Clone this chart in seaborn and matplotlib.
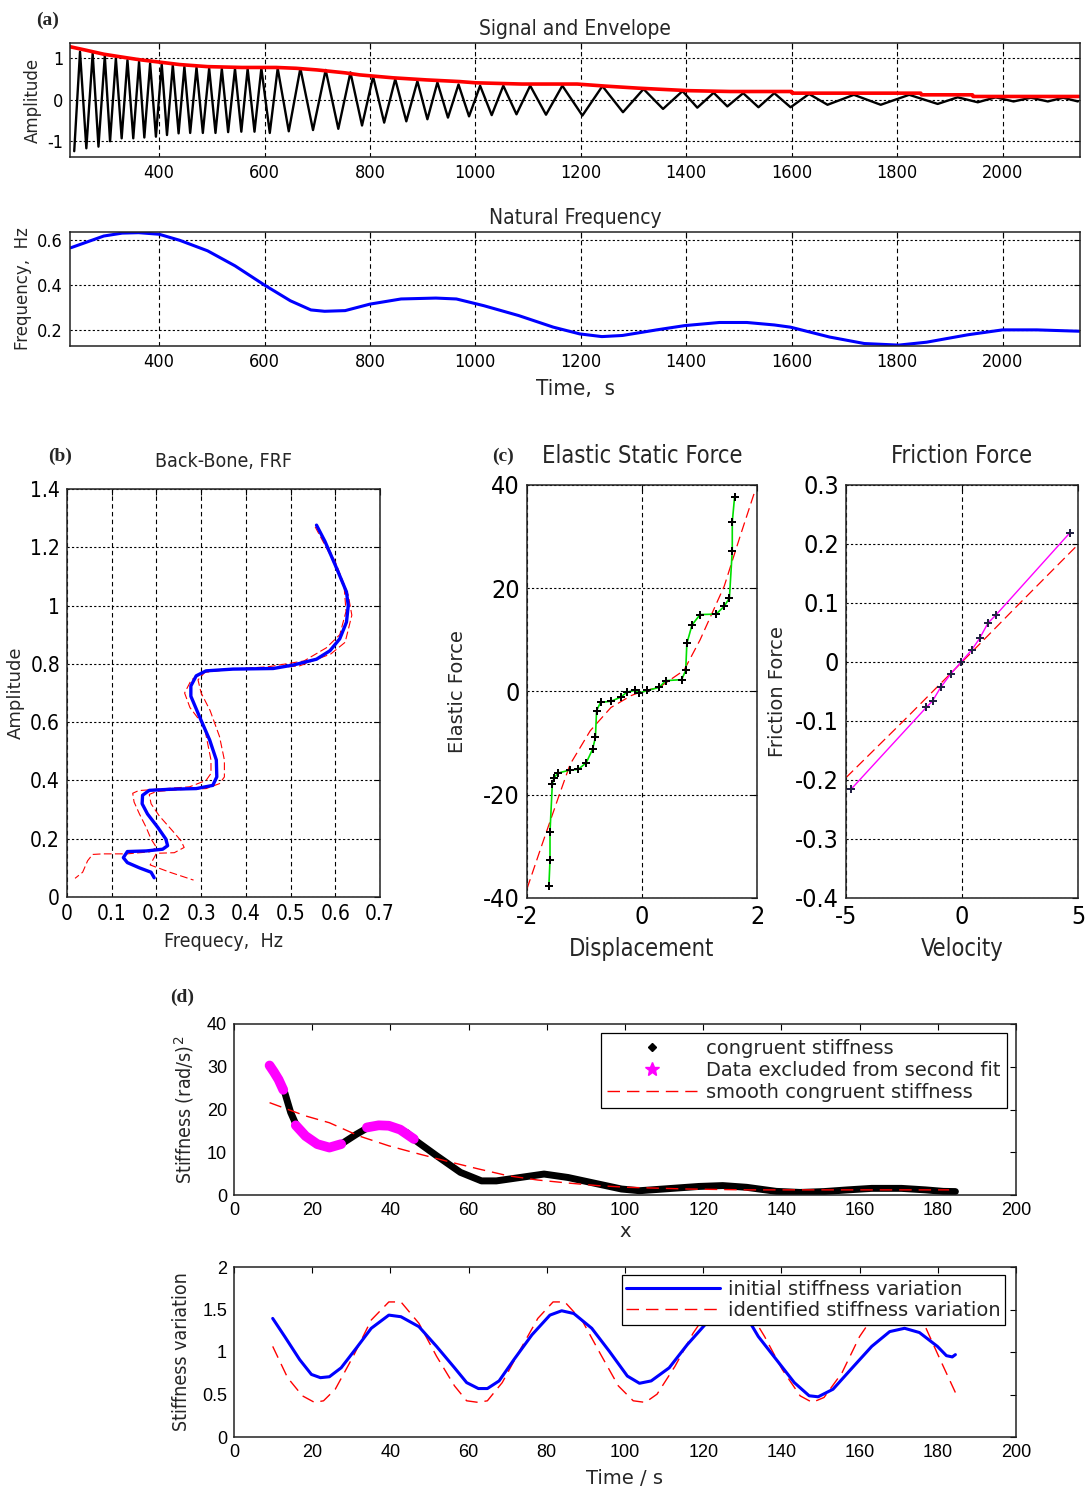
import matplotlib
matplotlib.use("Agg")
import matplotlib.pyplot as plt
from matplotlib.lines import Line2D
from matplotlib.ticker import FuncFormatter
from matplotlib import font_manager
from matplotlib.font_manager import FontProperties
import seaborn as sns

sns.set_style("white")
plt.rcParams["font.family"] = ["Liberation Sans", "DejaVu Sans"]

# look for a narrow face; else fall back to DejaVu Sans
narrow_path = None
for f in font_manager.fontManager.ttflist:
    n = (f.name + " " + f.fname).lower()
    if ("narrow" in n or "condensed" in n) and not any(k in n for k in ("bold", "oblique", "italic")):
        narrow_path = f.fname
        break
WIDE = "DejaVu Sans"
ARIAL = "Liberation Sans"


def nfp(size):
    if narrow_path:
        return FontProperties(fname=narrow_path, size=size)
    return FontProperties(family="DejaVu Sans", size=size * 0.85)


# ---------------- (a) signal and envelope ----------------
sig_t = [239, 250, 262, 274, 285, 297, 307, 318, 329, 340, 351, 362, 372, 383, 394, 405,
         415, 426, 437, 448, 459, 471, 483, 495, 507, 519, 531, 544, 556, 568, 581, 594,
         610, 625, 646, 668, 692, 716, 740, 763, 785, 806, 827, 848, 869, 890, 909, 928,
         948, 968, 988, 1009, 1031, 1053, 1078, 1104, 1134, 1165, 1203, 1241, 1280, 1319,
         1356, 1393, 1421, 1452, 1478, 1508, 1537, 1567, 1598, 1633, 1668, 1718, 1769,
         1823, 1877, 1915, 1953, 1987, 2021, 2054, 2086, 2115, 2143]
sig_a = [-1.24, 1.16, -1.17, 1.12, -1.13, 1.06, -1.0, 1.0, -0.93, 0.96, -0.93, 0.92, -0.91,
         0.88, -0.89, 0.86, -0.85, 0.84, -0.81, 0.80, -0.80, 0.78, -0.80, 0.76, -0.80, 0.75,
         -0.78, 0.75, -0.77, 0.75, -0.77, 0.76, -0.80, 0.76, -0.76, 0.76, -0.73, 0.72, -0.70,
         0.66, -0.62, 0.56, -0.55, 0.50, -0.52, 0.45, -0.47, 0.42, -0.43, 0.37, -0.40, 0.34,
         -0.37, 0.34, -0.35, 0.34, -0.36, 0.34, -0.38, 0.33, -0.30, 0.26, -0.22, 0.21, -0.19,
         0.17, -0.16, 0.16, -0.18, 0.16, -0.18, 0.14, -0.12, 0.12, -0.12, 0.12, -0.10, 0.06,
         -0.06, 0.06, -0.04, 0.05, -0.04, 0.05, -0.04]
env_t = [231, 260, 295, 330, 361, 400, 439, 492, 557, 622, 660, 700, 753, 781, 844, 907,
         970, 1000, 1088, 1193, 1247, 1310, 1341, 1405, 1484, 1600, 1601, 1845, 1846, 1943,
         1944, 2145]
env_a = [1.28, 1.20, 1.10, 1.03, 0.97, 0.91, 0.85, 0.80, 0.78, 0.78, 0.76, 0.72, 0.65, 0.60,
         0.53, 0.48, 0.44, 0.41, 0.38, 0.38, 0.33, 0.28, 0.26, 0.22, 0.20, 0.20, 0.16, 0.16,
         0.12, 0.12, 0.08, 0.08]

# natural frequency
nf_t = [233, 295, 330, 361, 400, 439, 492, 544, 600, 649, 688, 714, 753, 800, 859, 925,
        964, 1016, 1082, 1148, 1198, 1240, 1279, 1344, 1397, 1463, 1515, 1567, 1598, 1672,
        1738, 1803, 1856, 1934, 2000, 2065, 2145]
nf_f = [0.567, 0.619, 0.632, 0.634, 0.627, 0.600, 0.553, 0.486, 0.400, 0.330, 0.289, 0.283,
        0.286, 0.315, 0.338, 0.342, 0.338, 0.308, 0.264, 0.212, 0.182, 0.170, 0.175, 0.200,
        0.219, 0.233, 0.233, 0.222, 0.212, 0.168, 0.139, 0.132, 0.145, 0.178, 0.200, 0.200,
        0.194]

# ---------------- (b) back-bone ----------------
bb_f = [0.558, 0.577, 0.603, 0.625, 0.629, 0.625, 0.610, 0.588, 0.558, 0.506, 0.461, 0.371,
        0.311, 0.289, 0.277, 0.277, 0.296, 0.319, 0.334, 0.335, 0.326, 0.289, 0.236, 0.184,
        0.169, 0.168, 0.180, 0.203, 0.221, 0.225, 0.214, 0.177, 0.135, 0.126, 0.135, 0.162,
        0.188, 0.195]
bb_a = [1.276, 1.220, 1.128, 1.047, 1.000, 0.943, 0.886, 0.845, 0.816, 0.796, 0.784, 0.782,
        0.776, 0.759, 0.724, 0.689, 0.620, 0.539, 0.470, 0.412, 0.383, 0.372, 0.370, 0.366,
        0.349, 0.320, 0.285, 0.239, 0.199, 0.176, 0.164, 0.158, 0.156, 0.135, 0.118, 0.100,
        0.085, 0.066]
bb_in_f = [0.555, 0.590, 0.620, 0.624, 0.610, 0.580, 0.530, 0.450, 0.370, 0.305, 0.278, 0.263,
           0.275, 0.307, 0.322, 0.322, 0.311, 0.274, 0.220, 0.160, 0.147, 0.150, 0.162, 0.177,
           0.188, 0.200, 0.185, 0.134, 0.080, 0.057, 0.046, 0.035, 0.018]
bb_in_a = [1.270, 1.170, 1.060, 0.980, 0.900, 0.855, 0.810, 0.790, 0.782, 0.770, 0.745, 0.700,
           0.650, 0.585, 0.470, 0.424, 0.400, 0.378, 0.372, 0.365, 0.356, 0.326, 0.285, 0.239,
           0.199, 0.170, 0.155, 0.148, 0.148, 0.146, 0.124, 0.085, 0.064]
bb_out_f = [0.562, 0.600, 0.629, 0.637, 0.622, 0.590, 0.520, 0.450, 0.370, 0.310, 0.293, 0.300,
            0.320, 0.341, 0.352, 0.352, 0.341, 0.311, 0.250, 0.200, 0.184, 0.188, 0.206, 0.236,
            0.255, 0.262, 0.240, 0.200, 0.186, 0.230, 0.283]
bb_out_a = [1.267, 1.150, 1.036, 0.967, 0.874, 0.834, 0.793, 0.785, 0.782, 0.774, 0.745, 0.700,
            0.640, 0.551, 0.470, 0.412, 0.389, 0.372, 0.368, 0.362, 0.352, 0.320, 0.279, 0.227,
            0.193, 0.170, 0.152, 0.150, 0.110, 0.085, 0.058]

# ---------------- (c) elastic / friction force ----------------
el_x = [-1.619, -1.60, -1.60, -1.56, -1.53, -1.46, -1.25, -1.11, -0.97, -0.86, -0.81, -0.79,
        -0.72, -0.54, -0.37, -0.26, -0.12, -0.05, 0.09, 0.30, 0.41, 0.69, 0.76, 0.78, 0.87,
        1.01, 1.29, 1.43, 1.52, 1.57, 1.57, 1.61]
el_y = [-37.6, -32.7, -27.2, -18.0, -16.7, -15.8, -15.2, -15.1, -13.8, -11.2, -8.9, -3.7,
        -2.1, -1.9, -1.1, -0.1, 0.2, -0.3, 0.2, 0.8, 2.1, 2.3, 4.1, 9.3, 12.9, 14.9, 15.0,
        16.5, 18.1, 27.3, 32.8, 37.7]
el_fit_x = [-2.0, -1.74, -1.46, -1.25, -0.90, -0.54, -0.19, 0.02, 0.30, 0.73, 1.01, 1.22, 1.43,
            1.71, 1.96]
el_fit_y = [-38.2, -29.7, -20.7, -14.1, -7.6, -3.1, -0.8, 0.1, 0.8, 4.1, 10.0, 15.2, 20.4,
            30.2, 38.7]
fr_v = [-4.79, -1.54, -1.27, -0.92, -0.48, -0.04, 0.41, 0.76, 1.12, 1.47, 4.65]
fr_f = [-0.216, -0.077, -0.066, -0.043, -0.020, 0.0, 0.020, 0.040, 0.066, 0.080, 0.219]
fr_fit_v = [-5.0, -2.5, 0.0, 2.5, 5.0]
fr_fit_f = [-0.196, -0.099, 0.0, 0.100, 0.199]

# ---------------- (d) stiffness ----------------
st_x = [9.1, 11.4, 13.0, 14.5, 16.0, 18.3, 21.3, 24.4, 27.4, 31.3, 35.1, 39.6, 44.2, 46.5,
        51.8, 57.9, 63.3, 67.1, 73.2, 79.3, 85.4, 93.0, 99.1, 103.7, 109.8, 118.9, 125.0,
        131.1, 138.7, 144.8, 150.9, 157.0, 163.1, 170.7, 176.8, 181.4, 184.5]
st_y = [30.3, 27.0, 23.9, 19.3, 16.2, 13.8, 11.9, 11.1, 11.9, 14.2, 16.2, 16.2, 14.6, 12.7,
        9.2, 5.3, 3.3, 3.3, 4.1, 4.9, 4.1, 2.6, 1.4, 1.0, 1.4, 2.0, 2.2, 1.8, 0.85, 0.6, 0.8,
        1.2, 1.55, 1.55, 1.2, 0.85, 0.8]
ex1_x = [9.1, 10.2, 11.4, 12.6]
ex1_y = [30.3, 28.8, 27.0, 24.6]
ex2_x = [15.8, 18.3, 21.3, 24.4, 27.4]
ex2_y = [16.3, 13.8, 11.9, 11.1, 11.9]
ex3_x = [34.0, 37.0, 39.6, 42.5, 46.0]
ex3_y = [15.8, 16.3, 16.2, 15.3, 13.1]
sm_x = [9.1, 18.3, 24.4, 32.0, 39.6, 47.3, 54.9, 62.5, 70.1, 77.7, 85.4, 93.0, 100.6, 115.9,
        131.1, 146.3, 161.6, 176.8, 182.9]
sm_y = [21.6, 18.5, 16.9, 13.8, 11.5, 9.6, 7.8, 6.1, 4.5, 3.5, 2.8, 2.2, 1.8, 1.4, 1.2, 1.2,
        1.2, 1.2, 1.2]

var_t = [9.9, 13.0, 16.8, 19.8, 22.1, 24.4, 27.4, 31.3, 35.1, 39.6, 42.7, 47.3, 51.8, 56.4,
         59.5, 62.5, 64.8, 67.8, 71.6, 76.2, 80.8, 83.8, 86.9, 91.5, 96.0, 100.6, 103.7,
         106.7, 111.3, 115.9, 120.4, 125.0, 131.1, 134.1, 138.7, 143.3, 147.1, 149.4, 153.2,
         158.5, 163.1, 167.7, 171.5, 175.3, 179.9, 182.2, 183.7, 184.5]
var_init = [1.395, 1.18, 0.91, 0.736, 0.698, 0.709, 0.814, 1.047, 1.279, 1.434, 1.415, 1.298,
            1.066, 0.814, 0.64, 0.57, 0.57, 0.66, 0.911, 1.202, 1.434, 1.485, 1.453, 1.279,
            1.008, 0.717, 0.632, 0.66, 0.814, 1.085, 1.318, 1.434, 1.415, 1.182, 0.911, 0.64,
            0.485, 0.473, 0.562, 0.833, 1.066, 1.24, 1.279, 1.229, 1.066, 0.957, 0.942, 0.969]
id_t = [9.9, 13.7, 17.5, 20.6, 22.9, 25.9, 30.5, 35.1, 39.6, 42.7, 47.3, 51.8, 56.4, 59.5,
        62.5, 64.8, 68.6, 73.2, 77.7, 81.6, 84.6, 89.2, 93.8, 98.3, 102.1, 105.2, 108.2,
        112.8, 117.4, 122.0, 126.5, 131.1, 135.7, 140.2, 144.8, 147.9, 150.9, 155.5, 160.0,
        164.6, 169.2, 173.0, 176.8, 180.6, 184.5]
id_var = [1.066, 0.698, 0.484, 0.407, 0.426, 0.562, 0.95, 1.376, 1.589, 1.589, 1.337, 0.95,
          0.601, 0.426, 0.407, 0.426, 0.64, 1.027, 1.395, 1.589, 1.589, 1.357, 0.97, 0.601,
          0.426, 0.407, 0.504, 0.833, 1.22, 1.531, 1.609, 1.531, 1.182, 0.795, 0.484, 0.407,
          0.465, 0.756, 1.182, 1.492, 1.589, 1.57, 1.298, 0.911, 0.523]

W, H = 1086, 1487
fig = plt.figure(figsize=(W / 100, H / 100), dpi=100)


def box(l, t, r, b):
    return fig.add_axes([l / W, 1 - b / H, (r - l) / W, (b - t) / H])


def style(ax, xlim, ylim, xt, yt, fs, narrow=True, grid=True):
    ax.set_xlim(*xlim)
    ax.set_ylim(*ylim)
    ax.set_xticks(xt)
    ax.set_yticks(yt)
    fmt = FuncFormatter(lambda v, p: f"{v:g}")
    ax.xaxis.set_major_formatter(fmt)
    ax.yaxis.set_major_formatter(fmt)
    ax.tick_params(direction="in", top=True, right=True, length=4, width=0.8,
                   labelsize=fs, colors="black", pad=5)
    if narrow:
        for lab in ax.get_xticklabels() + ax.get_yticklabels():
            lab.set_fontproperties(nfp(fs))
    else:
        ax.tick_params(labelfontfamily=ARIAL)
    for s in ax.spines.values():
        s.set_linewidth(1.1)
        s.set_color("#222222")
    if grid:
        ax.xaxis.grid(True, color="black", ls=(0, (4, 3)), lw=0.8)
        ax.yaxis.grid(True, color="black", ls=(0, (2, 2)), lw=0.8)
    else:
        ax.grid(False)
    ax.set_axisbelow(True)


def line(ax, x, y, **kw):
    sns.lineplot(x=x, y=y, ax=ax, sort=False, estimator=None, **kw)


# (a) top
ax1 = box(70, 43, 1080, 157)
line(ax1, sig_t, sig_a, color="black", lw=1.7)
line(ax1, env_t, env_a, color="#ff0000", lw=2.6)
style(ax1, (231, 2147), (-1.38, 1.37), range(400, 2001, 200), [-1, 0, 1], 13)
ax1.set_title("Signal and Envelope", fontproperties=nfp(15), pad=6)
ax1.set_ylabel("Amplitude", family=WIDE, fontsize=12, labelpad=4)

ax2 = box(70, 232, 1080, 346)
line(ax2, nf_t, nf_f, color="#0000ff", lw=2.2)
style(ax2, (231, 2147), (0.128, 0.637), range(400, 2001, 200), [0.2, 0.4, 0.6], 13)
ax2.set_title("Natural Frequency", fontproperties=nfp(15), pad=6)
ax2.set_ylabel("Frequency,  Hz", family=WIDE, fontsize=12, labelpad=4)
ax2.set_xlabel("Time,  s", fontproperties=nfp(16), labelpad=6)

# (b)
axb = box(67, 489, 380, 897)
line(axb, bb_in_f, bb_in_a, color="#ff0000", lw=0.8, ls=(0, (7, 3)))
line(axb, bb_out_f, bb_out_a, color="#ff0000", lw=0.8, ls=(0, (7, 3)))
line(axb, bb_f, bb_a, color="#0000ff", lw=2.4)
style(axb, (0, 0.7), (0, 1.4), [i / 10 for i in range(8)], [i / 5 for i in range(8)], 15)
axb.set_title("Back-Bone, FRF", fontproperties=nfp(14), pad=16)
axb.set_ylabel("Amplitude", family=WIDE, fontsize=13, labelpad=4)
axb.set_xlabel("Frequecy,  Hz", fontproperties=nfp(14), labelpad=6)

# (c) elastic
axc1 = box(527, 485, 757, 898)
line(axc1, el_fit_x, el_fit_y, color="#ff0000", lw=0.9, ls=(0, (8, 4)))
line(axc1, el_x, el_y, color="#00e000", lw=1.2)
sns.scatterplot(x=el_x, y=el_y, ax=axc1, color="black", marker="P", s=30, linewidth=0,
                zorder=3)
style(axc1, (-2, 2), (-40, 40), [-2, 0, 2], [-40, -20, 0, 20, 40], 18)
axc1.set_title("Elastic Static Force", fontproperties=nfp(17), pad=16)
axc1.set_ylabel("Elastic Force", family=WIDE, fontsize=14, labelpad=12)
axc1.set_xlabel("Displacement", fontproperties=nfp(17), labelpad=6)

# (c) friction
axc2 = box(846, 485, 1078, 898)
line(axc2, fr_fit_v, fr_fit_f, color="#ff0000", lw=0.9, ls=(0, (8, 4)))
line(axc2, fr_v, fr_f, color="#ff00ff", lw=1.0)
sns.scatterplot(x=fr_v, y=fr_f, ax=axc2, color="#222244", marker="P", s=30, linewidth=0,
                zorder=3)
style(axc2, (-5, 5), (-0.4, 0.3), [-5, 0, 5], [i / 10 for i in range(-4, 4)], 18)
axc2.set_title("Friction Force", fontproperties=nfp(17), pad=16)
axc2.set_ylabel("Friction Force", family=WIDE, fontsize=14, labelpad=6)
axc2.set_xlabel("Velocity", fontproperties=nfp(17), labelpad=6)

# (d) top
axd1 = box(234, 1024, 1016, 1195)
line(axd1, st_x, st_y, color="black", lw=5)
for ex, ey in [(ex1_x, ex1_y), (ex2_x, ex2_y), (ex3_x, ex3_y)]:
    line(axd1, ex, ey, color="#ff00ff", lw=7, solid_capstyle="round")
line(axd1, sm_x, sm_y, color="#ff0000", lw=1.0, ls=(0, (9, 5)))
style(axd1, (0, 200), (0, 40), range(0, 201, 20), range(0, 41, 10), 13, narrow=False,
      grid=False)
axd1.set_ylabel("Stiffness (rad/s)$^2$", fontproperties=nfp(14), labelpad=8)
axd1.set_xlabel("x", family=WIDE, fontsize=14, labelpad=2)
h1 = [Line2D([], [], color="black", marker="D", ms=4, ls="none"),
      Line2D([], [], color="#ff00ff", marker="*", ms=10, ls="none"),
      Line2D([], [], color="#ff0000", lw=1.0, ls=(0, (9, 5)))]
leg = axd1.legend(h1, ["congruent stiffness", "Data excluded from second fit",
                       "smooth congruent stiffness"],
                  loc="upper right", bbox_to_anchor=(0.988, 0.947), fancybox=False,
                  framealpha=1, edgecolor="black", prop={"family": WIDE, "size": 14},
                  handlelength=4.6, handletextpad=0.5, labelspacing=0.15, borderpad=0.3,
                  borderaxespad=0)
leg.get_frame().set_linewidth(0.9)

# (d) bottom
axd2 = box(234, 1267, 1016, 1437)
line(axd2, id_t, id_var, color="#ff0000", lw=1.0, ls=(0, (9, 5)))
line(axd2, var_t, var_init, color="#0000ff", lw=2.2)
style(axd2, (0, 200), (0, 2), range(0, 201, 20), [0, 0.5, 1, 1.5, 2], 13, narrow=False,
      grid=False)
axd2.set_ylabel("Stiffness variation", fontproperties=nfp(14), labelpad=8)
axd2.set_xlabel("Time / s", family=WIDE, fontsize=14, labelpad=6)
h2 = [Line2D([], [], color="#0000ff", lw=2.2),
      Line2D([], [], color="#ff0000", lw=1.0, ls=(0, (9, 5)))]
leg2 = axd2.legend(h2, ["initial stiffness variation", "identified stiffness variation"],
                   loc="upper right", bbox_to_anchor=(0.986, 0.953), fancybox=False,
                   framealpha=1, edgecolor="black", prop={"family": WIDE, "size": 14},
                   handlelength=4.8, handletextpad=0.4, labelspacing=0.1, borderpad=0.25,
                   borderaxespad=0)
leg2.get_frame().set_linewidth(0.9)

# panel letters
for lab, x, y in [("(a)", 48, 20), ("(b)", 60, 456), ("(c)", 503, 456), ("(d)", 182, 997)]:
    fig.text(x / W, 1 - y / H, lab, family="Liberation Serif", weight="bold", fontsize=14,
             ha="center", va="center")

fig.savefig("out.png", dpi=100)
